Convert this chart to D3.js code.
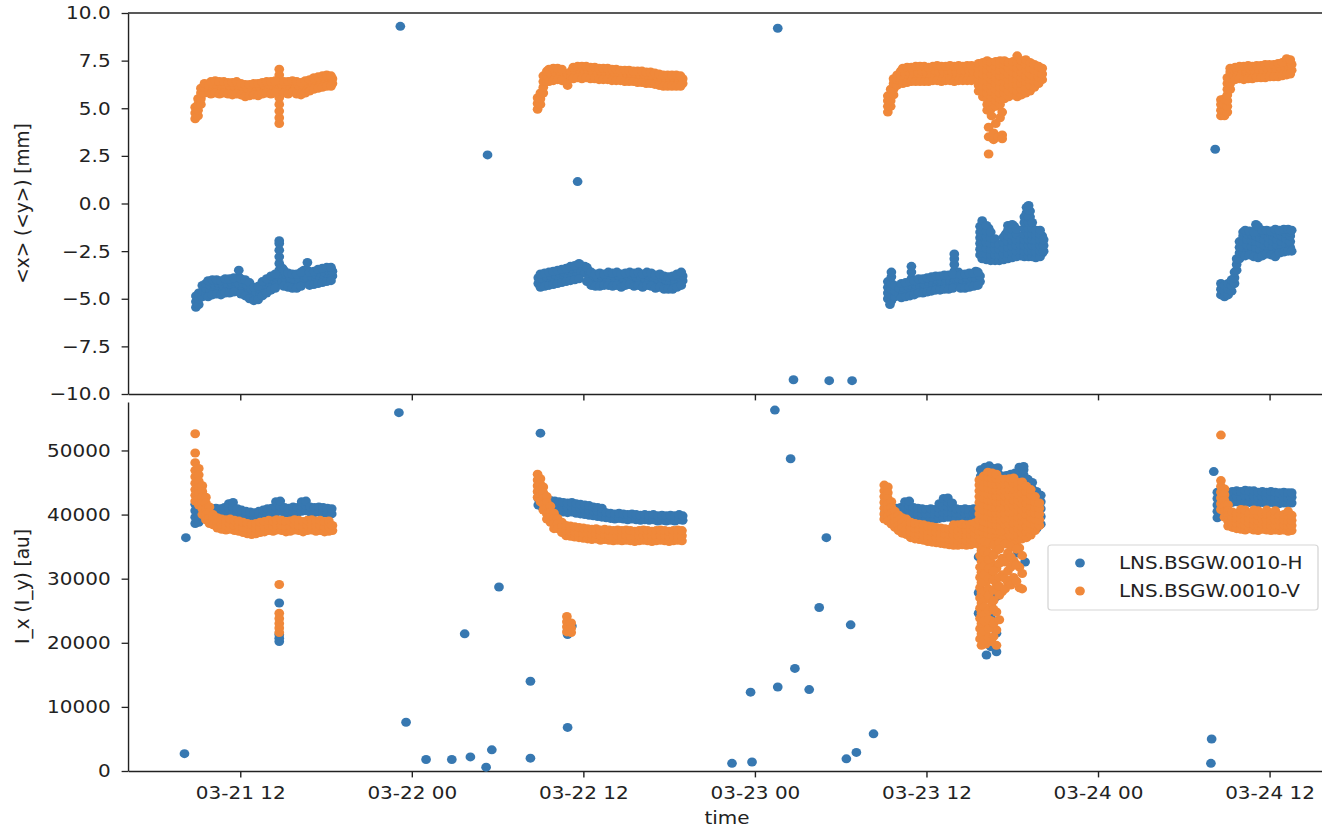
<!DOCTYPE html>
<html>
<head>
<meta charset="utf-8">
<script src="https://cdn.jsdelivr.net/npm/d3@7"></script>
<style>
  body { margin: 0; background: #fff; overflow: hidden; }
  text { font-family: "DejaVu Sans", sans-serif; }
</style>
</head>
<body>
<div id="chart"></div>
<script>
/* DATA */
// time origin: 03-21 00:00, every row is [hours after origin, value, value, ...]
const t0 = Date.UTC(2024, 2, 21);

// <x> of the H monitor, mm
const posH = [
  [23.2, 9.3], [29.3, 2.55], [35.6, 1.15], [49.6, 9.2], [50.7, -9.25], [53.2, -9.3], [54.8, -9.3], [80.2, 2.85],
  // 03-21
  [8.9, -5.45, -5.15, -4.85], [9.1, -5.3, -5.0, -4.7], [9.35, -4.9, -4.6, -4.3], [9.6, -4.75, -4.45, -4.2],
  [9.9, -4.6, -4.3], [10.2, -4.55, -4.25], [10.5, -4.5, -4.2], [10.8, -4.6, -4.3], [11.1, -4.5, -4.2],
  [11.4, -4.45, -4.15], [11.7, -4.4, -4.1], [11.9, -4.2, -3.85, -3.5], [12.2, -4.5, -4.2], [12.5, -4.6, -4.3],
  [12.8, -4.8, -4.5], [13.1, -5.0, -4.7], [13.4, -4.8, -4.5], [13.7, -4.6, -4.3], [14.0, -4.45, -4.15],
  [14.3, -4.3, -4.0], [14.55, -4.2, -3.9], [14.73, -3.85, -3.5, -3.15, -2.8, -2.45, -2.1, -1.95],
  [14.95, -4.1, -3.75, -3.4], [15.2, -4.05, -3.7], [15.5, -4.2, -3.9], [15.8, -4.25, -3.95], [16.1, -4.2, -3.9],
  [16.45, -4.1, -3.8, -3.5], [16.7, -3.9, -3.5, -3.1], [17.0, -4.15, -3.85], [17.3, -4.0, -3.7],
  [17.6, -3.95, -3.65], [17.9, -3.9, -3.6], [18.2, -3.85, -3.55], [18.45, -3.8, -3.55],
  [9.75, -4.9, -4.05], [10.05, -4.8, -4.0], [10.35, -4.75, -4.0], [10.65, -4.8, -4.05], [10.95, -4.7, -3.95],
  [11.25, -4.7, -3.95], [11.55, -4.65, -3.9], [12.05, -4.75, -3.95], [12.35, -4.85, -4.0], [12.65, -5.0, -4.15],
  [12.95, -5.1, -4.4], [13.25, -5.05, -4.35], [13.55, -4.85, -4.1], [13.85, -4.7, -3.95], [14.15, -4.55, -3.8],
  [14.45, -4.45, -3.7], [15.05, -4.35, -3.5], [15.35, -4.4, -3.65], [15.65, -4.45, -3.7], [15.95, -4.45, -3.7],
  [16.25, -4.35, -3.6], [16.85, -4.3, -3.6], [17.15, -4.25, -3.55], [17.45, -4.2, -3.45], [17.75, -4.15, -3.4],
  [18.05, -4.1, -3.35], [18.35, -4.05, -3.35],
  // 03-22
  [32.85, -4.2, -3.9], [33.15, -4.25, -3.95], [33.45, -4.15, -3.85], [33.75, -4.1, -3.8], [34.05, -4.05, -3.75],
  [34.35, -3.95, -3.65], [34.65, -3.9, -3.6], [34.95, -3.85, -3.5], [35.25, -3.8, -3.45], [35.55, -3.75, -3.4],
  [35.85, -3.6, -3.25], [36.1, -3.65, -3.3], [36.4, -3.9, -3.55], [36.7, -4.1, -3.8], [37.0, -4.2, -3.9],
  [37.3, -4.1, -3.8], [37.6, -4.15, -3.85], [37.9, -4.05, -3.75], [38.2, -4.15, -3.85], [38.5, -4.1, -3.8],
  [38.8, -4.2, -3.9], [39.1, -4.1, -3.8], [39.4, -4.0, -3.75], [39.7, -4.15, -3.85], [40.0, -4.1, -3.8],
  [40.3, -4.2, -3.9], [40.6, -4.05, -3.8], [40.9, -4.15, -3.85], [41.2, -4.25, -3.95], [41.5, -4.2, -3.9],
  [41.8, -4.3, -4.0], [42.1, -4.35, -4.05], [42.4, -4.3, -4.0], [42.7, -4.15, -3.85], [42.95, -4.05, -3.8],
  [33.0, -4.4, -3.7], [33.3, -4.35, -3.65], [33.6, -4.3, -3.6], [33.9, -4.25, -3.55], [34.2, -4.2, -3.5],
  [34.5, -4.15, -3.45], [34.8, -4.1, -3.4], [35.1, -4.05, -3.3], [35.4, -4.0, -3.25], [35.7, -3.95, -3.15],
  [36.25, -4.1, -3.35], [36.55, -4.3, -3.6], [36.85, -4.35, -3.7], [37.15, -4.35, -3.65], [37.45, -4.3, -3.7],
  [37.75, -4.3, -3.6], [38.05, -4.35, -3.65], [38.35, -4.3, -3.6], [38.65, -4.4, -3.7], [38.95, -4.3, -3.65],
  [39.25, -4.25, -3.6], [39.55, -4.35, -3.65], [39.85, -4.3, -3.6], [40.15, -4.4, -3.7], [40.45, -4.3, -3.6],
  [40.75, -4.35, -3.65], [41.05, -4.45, -3.75], [41.35, -4.4, -3.7], [41.65, -4.5, -3.8], [41.95, -4.5, -3.85],
  [42.25, -4.5, -3.8], [42.55, -4.4, -3.7], [42.85, -4.3, -3.6],
  // 03-23
  [57.3, -5.0, -4.7, -4.4, -4.1], [57.55, -5.1, -4.8, -4.5, -4.2, -3.85, -3.6], [57.8, -4.9, -4.6, -4.3],
  [58.1, -4.75, -4.45], [58.4, -4.7, -4.4], [58.7, -4.65, -4.35], [58.95, -4.6, -4.3, -3.95, -3.6, -3.3],
  [59.25, -4.55, -4.25], [59.55, -4.45, -4.15], [59.85, -4.5, -4.2], [60.15, -4.4, -4.1], [60.45, -4.35, -4.05],
  [60.75, -4.3, -4.0], [61.05, -4.35, -4.05], [61.35, -4.25, -3.95], [61.65, -4.3, -4.0],
  [61.95, -4.2, -3.9, -3.55, -3.2, -2.9, -2.65], [62.25, -4.25, -3.95, -3.6], [62.55, -4.3, -4.0],
  [62.85, -4.2, -3.9], [63.15, -4.15, -3.85], [63.45, -4.2, -3.9, -3.55], [63.75, -4.1, -3.8], [64.05, -2.85],
  [57.45, -5.3], [58.25, -4.95, -4.2], [58.55, -4.9, -4.15], [58.85, -4.85, -4.1], [59.15, -4.8, -4.05],
  [59.45, -4.7, -3.95], [59.75, -4.7, -3.95], [60.05, -4.65, -3.9], [60.35, -4.6, -3.85], [60.65, -4.55, -3.8],
  [60.95, -4.55, -3.8], [61.25, -4.5, -3.75], [61.55, -4.5, -3.75], [61.85, -4.45, -3.7], [62.4, -4.45, -3.75],
  [62.7, -4.45, -3.7], [63.0, -4.4, -3.65], [63.3, -4.35, -3.65], [63.6, -4.3, -3.6],
  [63.75, -2.7, -2.4, -2.1, -1.8, -1.5, -1.2], [64.05, -2.75, -2.45, -2.15, -1.85, -1.55, -1.2],
  [64.35, -2.8, -2.5, -2.2, -1.9, -1.6, -1.3], [64.65, -2.85, -2.55, -2.25, -1.95], [64.95, -2.9, -2.6, -2.3],
  [65.25, -2.85, -2.55, -2.25], [65.55, -2.8, -2.5, -2.2, -1.9, -1.6], [65.85, -2.75, -2.45, -2.15, -1.85, -1.55, -1.25],
  [66.15, -2.7, -2.4, -2.1, -1.8, -1.5, -1.2], [66.45, -2.6, -2.3, -2.0], [66.75, -2.5, -2.2, -1.9],
  [67.0, -2.6, -2.3, -2.0, -1.7, -1.4, -1.1, -0.8, -0.5, -0.2], [67.25, -2.5, -2.2, -1.9, -1.6, -1.3, -1.0, -0.7, -0.4],
  [67.5, -2.6, -2.3, -2.0, -1.7], [67.8, -2.7, -2.4, -2.1, -1.8, -1.55], [68.1, -2.6, -2.3, -2.0, -1.7],
  [63.9, -2.9, -2.6, -2.3, -2.0, -1.7, -1.4, -1.1, -0.9], [64.2, -2.95, -2.65, -2.35, -2.05, -1.75, -1.45, -1.15],
  [64.5, -3.0, -2.7, -2.4, -2.1, -1.8, -1.5], [64.8, -3.0, -2.7, -2.4, -2.1, -1.85], [65.1, -3.0, -2.7, -2.4, -2.15],
  [65.4, -2.95, -2.65, -2.35, -2.05, -1.75], [65.7, -2.9, -2.6, -2.3, -2.0, -1.7, -1.4, -1.15],
  [66.0, -2.85, -2.55, -2.25, -1.95, -1.65, -1.35, -1.1], [66.3, -2.8, -2.5, -2.2, -1.9, -1.6, -1.35],
  [66.6, -2.75, -2.45, -2.15, -1.9], [66.85, -2.8, -2.5, -2.2, -1.9, -1.6, -1.3, -1.0, -0.7],
  [67.15, -2.8, -2.5, -2.2, -1.9, -1.6, -1.3, -1.0, -0.7, -0.35, -0.1], [67.4, -2.8, -2.5, -2.2, -1.9, -1.6, -1.3, -1.0],
  [67.65, -2.85, -2.55, -2.25, -1.95, -1.65, -1.4], [67.95, -2.8, -2.5, -2.2, -1.9, -1.6, -1.4], [68.2, -2.5, -2.2, -1.9],
  // 03-24
  [80.6, -4.8, -4.5, -4.2], [80.85, -4.9, -4.6, -4.3], [81.1, -4.8, -4.5, -4.2], [81.35, -4.6, -4.3, -4.0],
  [81.55, -4.2, -3.9, -3.6], [81.7, -3.5, -3.2, -2.9], [81.9, -2.9, -2.6, -2.3, -2.0],
  [82.15, -2.6, -2.3, -2.0, -1.7, -1.5], [82.45, -2.5, -2.2, -1.9, -1.6], [82.75, -2.55, -2.25, -1.95, -1.65],
  [83.05, -2.6, -2.3, -2.0, -1.7, -1.4, -1.1], [83.35, -2.7, -2.4, -2.1, -1.8, -1.5], [83.65, -2.5, -2.2, -1.9, -1.6],
  [83.95, -2.4, -2.1, -1.8, -1.5], [84.25, -2.6, -2.3, -2.0, -1.7, -1.5], [84.55, -2.5, -2.2, -1.9, -1.6, -1.4],
  [84.85, -2.3, -2.0, -1.7, -1.45], [85.15, -2.45, -2.15, -1.85, -1.55], [85.45, -2.3, -2.0, -1.7, -1.5],
  [82.3, -2.75, -1.4], [82.6, -2.7, -1.45], [82.9, -2.8, -1.5], [83.2, -2.85, -1.2], [83.5, -2.75, -1.4],
  [83.8, -2.65, -1.4], [84.1, -2.7, -1.45], [84.4, -2.8, -1.35], [84.7, -2.6, -1.4], [85.0, -2.55, -1.35],
  [85.3, -2.5, -1.35], [85.55, -2.5, -1.4]
];

// <y> of the V monitor, mm
const posV = [
  // 03-21
  [8.85, 4.45, 4.75, 5.05], [9.05, 4.6, 4.9, 5.2, 5.5], [9.25, 5.2, 5.5, 5.8, 6.05], [9.5, 5.8, 6.1, 6.3],
  [9.8, 5.9, 6.2], [10.1, 5.95, 6.25], [10.4, 5.9, 6.2], [10.7, 5.95, 6.25], [11.0, 5.9, 6.2], [11.3, 5.9, 6.15],
  [11.6, 5.85, 6.15], [11.9, 5.9, 6.2], [12.2, 5.8, 6.1], [12.5, 5.75, 6.05], [12.8, 5.8, 6.1], [13.1, 5.85, 6.15],
  [13.4, 5.8, 6.1], [13.7, 5.9, 6.2], [14.0, 5.95, 6.25], [14.3, 5.9, 6.2], [14.55, 6.0, 6.3],
  [14.73, 4.2, 4.5, 4.85, 5.2, 5.55, 6.0, 6.35, 6.75, 7.05], [14.95, 5.95, 6.25], [15.2, 5.9, 6.2],
  [15.5, 6.0, 6.3], [15.8, 5.95, 6.25], [16.1, 5.85, 6.15], [16.4, 5.9, 6.2], [16.7, 6.0, 6.3], [17.0, 6.05, 6.35],
  [17.3, 6.15, 6.45], [17.6, 6.2, 6.5], [17.9, 6.25, 6.55], [18.2, 6.3, 6.6], [18.45, 6.3, 6.55],
  [9.95, 5.75, 6.4], [10.25, 5.8, 6.45], [10.55, 5.75, 6.4], [10.85, 5.8, 6.4], [11.15, 5.75, 6.35],
  [11.45, 5.7, 6.35], [11.75, 5.75, 6.4], [12.05, 5.7, 6.3], [12.35, 5.6, 6.25], [12.65, 5.65, 6.25],
  [12.95, 5.7, 6.3], [13.25, 5.65, 6.3], [13.55, 5.75, 6.35], [13.85, 5.8, 6.4], [14.15, 5.75, 6.4],
  [14.45, 5.8, 6.45], [15.05, 5.8, 6.4], [15.35, 5.75, 6.4], [15.65, 5.85, 6.45], [15.95, 5.75, 6.4],
  [16.25, 5.7, 6.35], [16.55, 5.8, 6.45], [16.85, 5.9, 6.5], [17.15, 6.0, 6.6], [17.45, 6.05, 6.65],
  [17.75, 6.1, 6.7], [18.05, 6.15, 6.75], [18.35, 6.15, 6.7],
  // 03-22
  [32.8, 4.95, 5.25, 5.55], [33.0, 5.2, 5.5, 5.8], [33.2, 5.8, 6.1, 6.4, 6.7], [33.45, 6.4, 6.7, 6.95],
  [33.75, 6.55, 6.85], [34.05, 6.6, 6.9], [34.35, 6.65, 6.95], [34.65, 6.5, 6.85], [34.9, 6.2, 6.5, 6.8],
  [35.15, 6.65, 6.95], [35.45, 6.75, 7.0], [35.75, 6.7, 7.0], [36.05, 6.75, 7.05], [36.35, 6.7, 7.0],
  [36.65, 6.75, 7.0], [36.95, 6.7, 6.95], [37.25, 6.65, 6.95], [37.55, 6.7, 6.95], [37.85, 6.65, 6.9],
  [38.15, 6.6, 6.9], [38.45, 6.65, 6.9], [38.75, 6.6, 6.85], [39.05, 6.55, 6.85], [39.35, 6.6, 6.85],
  [39.65, 6.55, 6.8], [39.95, 6.5, 6.8], [40.25, 6.55, 6.8], [40.55, 6.45, 6.75], [40.85, 6.5, 6.75],
  [41.15, 6.4, 6.7], [41.45, 6.35, 6.65], [41.75, 6.3, 6.6], [42.05, 6.3, 6.55], [42.35, 6.35, 6.6],
  [42.65, 6.3, 6.6], [42.95, 6.3, 6.55],
  [33.6, 6.4, 7.05], [33.9, 6.45, 7.1], [34.2, 6.5, 7.1], [34.5, 6.45, 7.05], [35.3, 6.55, 7.15], [35.6, 6.6, 7.2],
  [35.9, 6.55, 7.2], [36.2, 6.6, 7.2], [36.5, 6.55, 7.15], [36.8, 6.55, 7.15], [37.1, 6.5, 7.1], [37.4, 6.5, 7.1],
  [37.7, 6.5, 7.1], [38.0, 6.45, 7.05], [38.3, 6.45, 7.05], [38.6, 6.45, 7.0], [38.9, 6.4, 7.0], [39.2, 6.4, 7.0],
  [39.5, 6.4, 6.95], [39.8, 6.35, 6.95], [40.1, 6.35, 6.95], [40.4, 6.3, 6.9], [40.7, 6.3, 6.9], [41.0, 6.25, 6.85],
  [41.3, 6.2, 6.8], [41.6, 6.15, 6.75], [41.9, 6.15, 6.75], [42.2, 6.15, 6.75], [42.5, 6.15, 6.75], [42.8, 6.15, 6.7],
  // 03-23
  [57.3, 4.8, 5.1, 5.4, 5.65], [57.5, 5.1, 5.4, 5.7, 6.0], [57.7, 5.7, 6.0, 6.3, 6.55], [57.95, 6.2, 6.5, 6.75],
  [58.2, 6.45, 6.75, 6.95], [58.5, 6.55, 6.85], [58.8, 6.6, 6.9], [59.1, 6.65, 6.95], [59.4, 6.6, 6.9],
  [59.7, 6.65, 6.95], [60.0, 6.6, 6.9], [60.3, 6.65, 6.95], [60.6, 6.7, 7.0], [60.9, 6.6, 6.9],
  [61.2, 6.65, 6.95], [61.5, 6.7, 7.0], [61.8, 6.65, 6.95], [62.1, 6.6, 6.9], [62.4, 6.7, 7.0],
  [62.7, 6.65, 6.95], [63.0, 6.7, 7.0], [63.3, 6.65, 6.95, 7.2],
  [58.35, 6.3, 7.1], [58.65, 6.35, 7.15], [58.95, 6.4, 7.15], [59.25, 6.4, 7.2], [59.55, 6.4, 7.2],
  [59.85, 6.4, 7.2], [60.15, 6.4, 7.15], [60.45, 6.45, 7.2], [60.75, 6.45, 7.25], [61.05, 6.4, 7.2],
  [61.35, 6.45, 7.2], [61.65, 6.45, 7.25], [61.95, 6.4, 7.2], [62.25, 6.45, 7.25], [62.55, 6.45, 7.2],
  [62.85, 6.45, 7.25], [63.15, 6.45, 7.25],
  [63.65, 5.9, 6.2, 6.5, 6.8, 7.1, 7.35], [63.95, 5.6, 5.9, 6.2, 6.5, 6.8, 7.1, 7.4],
  [64.25, 4.9, 5.2, 5.5, 5.8, 6.1, 6.4, 6.7, 7.0, 7.3, 7.5], [64.55, 4.6, 5.0, 5.3, 5.6, 5.9, 6.2, 6.5, 6.8, 7.1, 7.4],
  [64.85, 4.2, 5.1, 5.4, 5.7, 6.0, 6.3, 6.6, 6.9, 7.2, 7.45], [65.15, 4.5, 5.2, 5.5, 5.8, 6.1, 6.4, 6.7, 7.0, 7.3, 7.5],
  [65.45, 5.5, 5.8, 6.1, 6.4, 6.7, 7.0, 7.3, 7.5], [65.75, 5.6, 5.9, 6.2, 6.5, 6.8, 7.1, 7.4],
  [66.05, 5.7, 6.0, 6.3, 6.6, 6.9, 7.2, 7.45], [66.35, 5.6, 5.9, 6.2, 6.5, 6.8, 7.1, 7.4, 7.75],
  [66.65, 5.7, 6.0, 6.3, 6.6, 6.9, 7.2, 7.5], [66.95, 5.8, 6.1, 6.4, 6.7, 7.0, 7.3, 7.55],
  [67.25, 5.9, 6.2, 6.5, 6.8, 7.1, 7.4], [67.55, 6.1, 6.4, 6.7, 7.0, 7.3], [67.85, 6.3, 6.6, 6.9, 7.2],
  [68.1, 6.5, 6.8, 7.1],
  [64.35, 4.0, 3.5, 2.6], [64.7, 3.7, 3.35], [65.0, 3.5], [65.3, 4.8, 3.6, 3.4],
  // 03-24
  [80.6, 4.6, 4.9, 5.2, 5.45], [80.85, 4.6, 4.9, 5.2, 5.5], [81.05, 4.8, 5.1, 5.4, 5.7, 6.0, 6.3, 6.6],
  [81.25, 6.0, 6.3, 6.6, 6.9, 7.1], [81.5, 6.7, 7.0], [81.75, 6.7, 7.0], [82.05, 6.75, 7.05], [82.35, 6.7, 7.0],
  [82.65, 6.75, 7.05], [82.95, 6.7, 7.0], [83.25, 6.8, 7.05], [83.55, 6.75, 7.05], [83.85, 6.8, 7.1],
  [84.15, 6.85, 7.1], [84.45, 6.8, 7.1], [84.75, 6.85, 7.15], [85.05, 6.9, 7.2, 7.45], [85.35, 6.95, 7.25, 7.5],
  [85.55, 7.0, 7.3],
  [81.6, 6.5, 7.15], [81.9, 6.55, 7.2], [82.2, 6.5, 7.2], [82.5, 6.55, 7.25], [82.8, 6.55, 7.2], [83.1, 6.6, 7.25],
  [83.4, 6.6, 7.25], [83.7, 6.6, 7.3], [84.0, 6.65, 7.3], [84.3, 6.65, 7.3], [84.6, 6.65, 7.35], [84.9, 6.7, 7.4],
  [85.2, 6.75, 7.6], [85.45, 6.8, 7.55]
];

// I_x of the H monitor, au
const intH = [
  [8.2, 36400], [8.1, 2700], [23.1, 55900], [23.6, 7600], [25.0, 1800], [26.8, 1800], [28.1, 2200], [29.2, 600],
  [29.6, 3300], [27.7, 21400], [30.1, 28700], [32.3, 14000], [32.3, 2000], [33.0, 52700], [34.9, 6800],
  [46.4, 1200], [47.8, 1400], [47.7, 12300], [49.6, 13100], [49.4, 56300], [50.5, 48700], [50.8, 16000],
  [51.8, 12700], [52.5, 25500], [53.0, 36400], [54.4, 1900], [54.7, 22800], [55.1, 2900], [56.3, 5800],
  [79.9, 1200], [79.95, 5000], [80.1, 46700],
  // 03-21
  [8.85, 38600, 39600, 40600, 41600], [9.1, 38800, 39800, 40800, 41800, 42600], [9.4, 39600, 40600, 41500],
  [9.7, 40000, 40900], [10.0, 40100, 40900], [10.3, 40200, 41000], [10.6, 40100, 40900], [10.9, 40300, 41100],
  [11.2, 40200, 41000, 41700], [11.5, 40300, 41200, 41900], [11.8, 40100, 40900], [12.1, 39900, 40700],
  [12.4, 39700, 40500], [12.7, 39600, 40400], [13.0, 39500, 40300], [13.3, 39700, 40500], [13.6, 39900, 40700],
  [13.9, 40100, 40900], [14.2, 40200, 41000], [14.5, 40400, 41200, 42000], [14.8, 40500, 41300, 42100],
  [15.1, 40300, 41100], [15.4, 40200, 41000], [15.7, 40400, 41200], [16.0, 40300, 41100],
  [16.3, 40500, 41300, 42000], [16.6, 40600, 41400, 42100], [16.9, 40400, 41200], [17.2, 40300, 41100],
  [17.5, 40400, 41200], [17.8, 40300, 41100], [18.1, 40200, 41000], [18.4, 40100, 40900],
  [14.73, 26200, 21300, 20700, 20200],
  // 03-22
  [32.85, 41500, 42500, 43500, 44500], [33.1, 41200, 42100, 43000], [33.4, 40800, 41700, 42500],
  [33.7, 40700, 41500, 42200], [34.0, 40600, 41400, 42100], [34.3, 40500, 41300, 42000], [34.6, 40400, 41200, 41900],
  [34.9, 40300, 41100, 41800], [35.2, 40400, 41200, 41900], [35.5, 40200, 41000, 41700], [35.8, 40100, 40900, 41600],
  [36.1, 40000, 40800, 41500], [36.4, 39900, 40700, 41400], [36.7, 39800, 40600, 41200], [37.0, 39700, 40500, 41100],
  [37.3, 39600, 40400, 41000], [37.6, 39500, 40300], [37.9, 39400, 40200], [38.2, 39300, 40100],
  [38.5, 39400, 40200], [38.8, 39300, 40100], [39.1, 39200, 40000], [39.4, 39300, 40100], [39.7, 39200, 40000],
  [40.0, 39100, 39900], [40.3, 39200, 40000], [40.6, 39100, 39900], [40.9, 39200, 40000], [41.2, 39000, 39800],
  [41.5, 39100, 39900], [41.8, 39000, 39800], [42.1, 39100, 39900], [42.4, 39000, 39800], [42.7, 39200, 40000],
  [42.95, 39100, 39800],
  [34.9, 22000, 21300], [35.2, 22600],
  // 03-23
  [57.1, 39500, 40300, 41100, 42000, 42800], [57.35, 39200, 40000, 40800], [57.6, 39400, 40200, 41000],
  [57.9, 39500, 40300, 41000], [58.2, 39600, 40400, 41100], [58.5, 39700, 40500, 41300, 42000],
  [58.8, 39800, 40600, 41400, 42100], [59.1, 39600, 40400, 41100], [59.4, 39500, 40300, 41000],
  [59.7, 39400, 40200, 40900], [60.0, 39300, 40100, 40800], [60.3, 39400, 40200, 40900], [60.6, 39300, 40100, 40800],
  [60.9, 39400, 40200, 41000, 41700], [61.2, 39500, 40300, 41100, 41900, 42500],
  [61.5, 39600, 40400, 41200, 42000, 42600], [61.8, 39500, 40300, 41100, 41800], [62.1, 39400, 40200, 40900],
  [62.4, 39300, 40100, 40800], [62.7, 39400, 40200, 40900], [63.0, 39300, 40100, 40800], [63.3, 39400, 40200, 40900],
  [63.6, 39500, 40300, 41000],
  [63.8, 44000, 45000, 46000, 47000], [64.1, 44500, 45500, 46500, 47400], [64.4, 45000, 46000, 47000, 47600],
  [64.7, 45200, 46200, 47200], [65.0, 45400, 46400, 47300], [65.3, 44000, 45000, 46000], [65.6, 44200, 45200, 46100],
  [65.9, 44400, 45400, 46300], [66.2, 44600, 45600, 46500], [66.5, 45000, 46000, 46900, 47400],
  [66.8, 45200, 46200, 47000, 47500], [67.1, 43500, 44500, 45500],
  [67.4, 38000, 39200, 40400, 41600, 42800, 44000, 45000], [67.7, 37800, 39000, 40200, 41400, 42600, 43600],
  [68.0, 38500, 39700, 40900, 42000, 43000],
  [63.65, 33400, 27800, 24600], [63.9, 30900], [64.2, 18100], [64.9, 27200, 21500, 18600], [66.4, 34000],
  [66.9, 32600], [64.5, 24000, 19400], [63.95, 22800],
  // 03-24
  [80.35, 39500, 40500, 41500, 42500, 43500], [80.6, 40000, 41000, 42000, 43000], [80.85, 41500, 42400, 43300],
  [81.1, 41800, 42700, 43500], [81.4, 41900, 42800, 43600], [81.7, 42000, 42900, 43700], [82.0, 41900, 42800, 43600],
  [82.3, 42000, 42900, 43800], [82.6, 41900, 42800, 43700], [82.9, 42000, 42900, 43700], [83.2, 41800, 42700, 43500],
  [83.5, 41900, 42800, 43600], [83.8, 41800, 42700, 43500], [84.1, 41900, 42800, 43600], [84.4, 41800, 42700, 43500],
  [84.7, 41700, 42600, 43400], [85.0, 41800, 42700, 43500], [85.3, 41700, 42600, 43400], [85.55, 41800, 42700, 43400]
];

// I_y of the V monitor, au
const intV = [
  // 03-21
  [8.85, 52600, 49600, 48100, 46900, 45900, 44900, 43900, 43000, 42100],
  [9.1, 47200, 46200, 45200, 44200, 43300, 42400, 41500], [9.35, 44500, 43600, 42700, 41800, 40900, 40000],
  [9.6, 42700, 41800, 40900, 40000, 39200], [9.85, 41200, 40300, 39400, 38600], [10.1, 40000, 39200, 38400],
  [10.4, 39500, 38700, 37900], [10.7, 37700, 38500, 39300], [11.0, 37600, 38400, 39200], [11.3, 37700, 38500, 39300],
  [11.6, 37500, 38300, 39100], [11.9, 37400, 38200, 39000], [12.2, 37200, 38000, 38800], [12.5, 37000, 37800, 38600],
  [12.8, 36900, 37700, 38500], [13.1, 37000, 37800, 38600], [13.4, 37200, 38000, 38800], [13.7, 37300, 38100, 38900],
  [14.0, 37500, 38300, 39100], [14.3, 37400, 38200, 39000], [14.55, 37600, 38400, 39200],
  [14.73, 29100, 24600, 23800, 23000, 22300, 21600], [14.9, 37500, 38300, 39100], [15.2, 37300, 38100, 38900],
  [15.5, 37400, 38200, 39000], [15.8, 37600, 38400, 39200], [16.1, 37500, 38300, 39100], [16.4, 37300, 38100, 38900],
  [16.7, 37500, 38300, 39100], [17.0, 37600, 38400, 39200], [17.3, 37400, 38200, 39000], [17.6, 37500, 38300, 39100],
  [17.9, 37300, 38100, 38900], [18.2, 37400, 38200, 39000], [18.45, 37500, 38300],
  // 03-22
  [32.8, 46300, 45400, 44500, 43600, 42700], [33.0, 45600, 44700, 43800, 42900, 42000],
  [33.2, 44300, 43400, 42500, 41600, 40700], [33.45, 42800, 41900, 41000, 40100, 39300],
  [33.7, 41300, 40400, 39600, 38800], [33.95, 40200, 39400, 38600, 37800], [34.2, 39400, 38600, 37800],
  [34.5, 38800, 38000, 37200], [34.8, 36700, 37500, 38300], [35.1, 36600, 37400, 38200], [35.4, 36500, 37300, 38100],
  [35.7, 36400, 37200, 38000], [36.0, 36300, 37100, 37900], [36.3, 36200, 37000, 37800], [36.6, 36100, 36900, 37700],
  [36.9, 36200, 37000, 37800], [37.2, 36000, 36800, 37600], [37.5, 36100, 36900, 37700], [37.8, 36000, 36800, 37600],
  [38.1, 35900, 36700, 37500], [38.4, 36000, 36800, 37600], [38.7, 35900, 36700, 37500], [39.0, 36000, 36800, 37600],
  [39.3, 35900, 36700, 37500], [39.6, 35800, 36600, 37400], [39.9, 35900, 36700, 37500], [40.2, 36000, 36800, 37600],
  [40.5, 35900, 36700, 37500], [40.8, 35800, 36600, 37400], [41.1, 35900, 36700, 37500], [41.4, 36000, 36800, 37600],
  [41.7, 35900, 36700, 37500], [42.0, 35800, 36600, 37400], [42.3, 35900, 36700, 37500], [42.6, 36000, 36800, 37600],
  [42.9, 35900, 36700, 37500],
  [34.85, 24100, 23300, 22500, 21700], [35.15, 23100, 22300, 21600],
  // 03-23
  [57.05, 44600, 43700, 42800, 41900, 41000, 40100, 39300], [57.3, 44300, 43400, 42500, 41600, 40700, 39800, 39000],
  [57.55, 42000, 41100, 40200, 39300, 38500], [57.8, 40500, 39600, 38800, 38000], [58.05, 39900, 39100, 38300, 37500],
  [58.3, 39500, 38700, 37900, 37100], [58.6, 39300, 38500, 37700, 36900],
  [58.9, 36400, 37200, 38000, 38800], [59.2, 36200, 37000, 37800, 38600], [59.5, 36100, 36900, 37700, 38500],
  [59.8, 36000, 36800, 37600, 38400], [60.1, 35800, 36600, 37400, 38200], [60.4, 35700, 36500, 37300, 38100],
  [60.7, 35600, 36400, 37200, 38000], [61.0, 35500, 36300, 37100, 37900], [61.3, 35400, 36200, 37000, 37800],
  [61.6, 35300, 36100, 36900, 37700], [61.9, 35200, 36000, 36800, 37600, 38400],
  [62.2, 35200, 36000, 36800, 37600, 38400], [62.5, 35300, 36100, 36900, 37700, 38500],
  [62.8, 35200, 36000, 36800, 37600, 38400], [63.1, 35300, 36100, 36900, 37700, 38500],
  [63.4, 35500, 36300, 37100, 37900, 38700],
  [63.7, 36500, 37400, 38300, 39200, 40100, 41000, 41900, 42800, 43700, 44600, 45400],
  [64.0, 36200, 37100, 38000, 38900, 39800, 40700, 41600, 42500, 43400, 44300, 45200, 46000],
  [64.3, 36000, 36900, 37800, 38700, 39600, 40500, 41400, 42300, 43200, 44100, 45000, 45900, 46600],
  [64.6, 35800, 36700, 37600, 38500, 39400, 40300, 41200, 42100, 43000, 43900, 44800, 45700, 46500],
  [64.9, 35700, 36600, 37500, 38400, 39300, 40200, 41100, 42000, 42900, 43800, 44700, 45600, 46300],
  [65.2, 35600, 36500, 37400, 38300, 39200, 40100, 41000, 41900, 42800, 43700, 44600, 45500],
  [65.5, 35700, 36600, 37500, 38400, 39300, 40200, 41100, 42000, 42900, 43800, 44700, 45500],
  [65.8, 35800, 36700, 37600, 38500, 39400, 40300, 41200, 42100, 43000, 43900, 44800, 45600],
  [66.1, 35900, 36800, 37700, 38600, 39500, 40400, 41300, 42200, 43100, 44000, 44900, 45700],
  [66.4, 36000, 36900, 37800, 38700, 39600, 40500, 41400, 42300, 43200, 44100, 45000],
  [66.7, 36200, 37100, 38000, 38900, 39800, 40700, 41600, 42500, 43400, 44300, 45100],
  [67.0, 36400, 37300, 38200, 39100, 40000, 40900, 41800, 42700, 43600, 44400],
  [67.3, 36800, 37700, 38600, 39500, 40400, 41300, 42200, 43100, 43900],
  [67.6, 37500, 38400, 39300, 40200, 41100, 42000, 42800], [67.9, 38300, 39200, 40100, 41000, 41800],
  [63.75, 35200, 33600, 31800, 30200, 28600, 27000, 25400, 23800, 22200, 20600],
  [64.15, 34600, 33000, 29400, 26800, 24200, 22800, 21200, 19800], [64.55, 35400, 32400, 30800, 25800, 23400, 20200],
  [64.9, 35800, 34400, 31600, 29200, 24800, 22000, 19600], [65.3, 36000, 33200, 30600, 28000],
  [65.7, 35600, 34000, 31200, 29400], [66.1, 35200, 32800, 30200], [66.5, 34800, 31800, 28600],
  [63.85, 36000, 34400, 32700, 31000, 29400, 27800, 26200, 24600, 23000, 21400, 19600],
  [64.05, 35800, 34200, 32000, 30600, 28000, 25600, 24400, 23400, 21800, 20400],
  [64.35, 35600, 34000, 33000, 31600, 30000, 28400, 27400, 25000, 23600, 22200, 20800],
  [64.7, 35200, 33600, 31200, 29800, 28200, 26600, 25200, 23000, 21000],
  [65.1, 35600, 34600, 32400, 30200, 28800, 27400, 23600], [65.5, 35400, 32600, 30000, 28400],
  [65.9, 35000, 33400, 31800, 29000], [66.3, 34600, 32200, 29600], [66.7, 33600, 30800, 28400],
  // 03-24
  [80.6, 52400, 45300, 44400, 43500, 42600, 41700, 40800], [80.85, 44000, 43100, 42200, 41300, 40400, 39600],
  [81.1, 41500, 40600, 39800, 39000, 38200], [81.4, 38000, 38800, 39600, 40400], [81.7, 37800, 38600, 39400, 40200],
  [82.0, 37700, 38500, 39300, 40100, 40800], [82.3, 37600, 38400, 39200, 40000, 40700], [82.6, 37800, 38600, 39400, 40200],
  [82.9, 37600, 38400, 39200, 40000, 40700], [83.2, 37500, 38300, 39100, 39900, 40600], [83.5, 37700, 38500, 39300, 40100],
  [83.8, 37600, 38400, 39200, 40000, 40700], [84.1, 37500, 38300, 39100, 39900], [84.4, 37600, 38400, 39200, 40000, 40600],
  [84.7, 37500, 38300, 39100, 39900], [85.0, 37600, 38400, 39200, 40000], [85.3, 37400, 38200, 39000, 39800, 40500],
  [85.55, 37500, 38300, 39100, 39900]
];

const seriesNames = ['LNS.BSGW.0010-H', 'LNS.BSGW.0010-V'];
const posTicks = [-10, -7.5, -5, -2.5, 0, 2.5, 5, 7.5, 10];
const intTicks = [0, 10000, 20000, 30000, 40000, 50000];

/* CONSTANTS AND GLOBALS */
const colors = ['#3778b1', '#f0883a'];
const sx = 1.08;                 // the picture is a little wider than tall
const W = 1322, H = 828;
const px = v => v / sx;          // screen x -> drawing x
const left = px(128), right = px(1326);
const topPanel = { y0: 13, y1: 394 };
const botPanel = { y0: 402, y1: 771 };
const r = 4.5;
const fs = 18.5;
const ink = '#222';
const hour = 3600e3;

const toPoints = rows => rows.flatMap(([h, ...vals]) => vals.map(v => ({ t: new Date(t0 + h * hour), v })));

const svg = d3.select('#chart')
  .append('svg')
  .attr('width', W)
  .attr('height', H)
  .attr('viewBox', `0 0 ${px(W)} ${H}`)
  .attr('preserveAspectRatio', 'none');

const x = d3.scaleUtc()
  .domain([new Date(t0 + 4.15 * hour), new Date(t0 + 87.95 * hour)])
  .range([left, right]);

const yTop = d3.scaleLinear().domain([-10, 10]).range([topPanel.y1, topPanel.y0]);
const yBot = d3.scaleLinear().domain([0, 57560]).range([botPanel.y1, botPanel.y0]);

const styleAxis = g => {
  g.selectAll('path, line').attr('stroke', ink).attr('stroke-width', 1.3);
  g.selectAll('text').attr('fill', ink).attr('font-size', fs).attr('font-family', '"DejaVu Sans", sans-serif');
};

// top panel
svg.append('g')
  .attr('transform', `translate(${left},0)`)
  .call(d3.axisLeft(yTop).tickValues(posTicks).tickFormat(d3.format('.1f')).tickSize(px(6.4)).tickPadding(px(11)).tickSizeOuter(0))
  .call(styleAxis);

svg.append('g')
  .attr('transform', `translate(0,${topPanel.y1})`)
  .call(d3.axisBottom(x).ticks(d3.utcHour.every(12)).tickFormat('').tickSize(6.4).tickSizeOuter(0))
  .call(styleAxis);

svg.append('line')
  .attr('x1', left).attr('x2', right)
  .attr('y1', topPanel.y0).attr('y2', topPanel.y0)
  .attr('stroke', ink).attr('stroke-width', 1.3);

// bottom panel
svg.append('g')
  .attr('transform', `translate(${left},0)`)
  .call(d3.axisLeft(yBot).tickValues(intTicks).tickFormat(d3.format('d')).tickSize(px(6.4)).tickPadding(px(11)).tickSizeOuter(0))
  .call(styleAxis);

svg.append('g')
  .attr('transform', `translate(0,${botPanel.y1})`)
  .call(d3.axisBottom(x).ticks(d3.utcHour.every(12)).tickFormat(d3.utcFormat('%m-%d %H')).tickSize(6.4).tickPadding(8).tickSizeOuter(0))
  .call(styleAxis);

// points
[posH, posV].forEach((rows, i) => {
  svg.append('g')
    .selectAll('circle')
    .data(toPoints(rows))
    .join('circle')
    .attr('cx', d => x(d.t))
    .attr('cy', d => yTop(d.v))
    .attr('r', r)
    .attr('fill', colors[i]);
});

[intH, intV].forEach((rows, i) => {
  svg.append('g')
    .selectAll('circle')
    .data(toPoints(rows))
    .join('circle')
    .attr('cx', d => x(d.t))
    .attr('cy', d => yBot(d.v))
    .attr('r', r)
    .attr('fill', colors[i]);
});

// axis titles
svg.append('text')
  .attr('transform', `translate(${px(22)},${(topPanel.y0 + topPanel.y1) / 2}) rotate(-90)`)
  .attr('text-anchor', 'middle')
  .attr('dominant-baseline', 'central')
  .attr('font-size', fs)
  .attr('fill', ink)
  .text('<x> (<y>) [mm]');

svg.append('text')
  .attr('transform', `translate(${px(22)},${(botPanel.y0 + botPanel.y1) / 2}) rotate(-90)`)
  .attr('text-anchor', 'middle')
  .attr('dominant-baseline', 'central')
  .attr('font-size', fs)
  .attr('fill', ink)
  .text('I_x (I_y) [au]');

svg.append('text')
  .attr('x', px(727))
  .attr('y', 818)
  .attr('text-anchor', 'middle')
  .attr('dominant-baseline', 'central')
  .attr('font-size', fs)
  .attr('fill', ink)
  .text('time');

// Legend
const legend = svg.append('g');

legend.append('rect')
  .attr('x', px(1048))
  .attr('y', 545)
  .attr('width', px(1318) - px(1048))
  .attr('height', 65)
  .attr('rx', 3)
  .attr('fill', 'white')
  .attr('fill-opacity', 0.8)
  .attr('stroke', '#d6d6d6')
  .attr('stroke-width', 1.2);

const item = legend.selectAll('.item')
  .data(seriesNames)
  .join('g')
  .attr('class', 'item')
  .attr('transform', (d, i) => `translate(0,${563 + i * 28})`);

item.append('circle')
  .attr('cx', px(1080))
  .attr('r', r)
  .attr('fill', (d, i) => colors[i]);

item.append('text')
  .attr('x', px(1119))
  .attr('dominant-baseline', 'central')
  .attr('font-size', fs)
  .attr('fill', ink)
  .text(d => d);
</script>
</body>
</html>
